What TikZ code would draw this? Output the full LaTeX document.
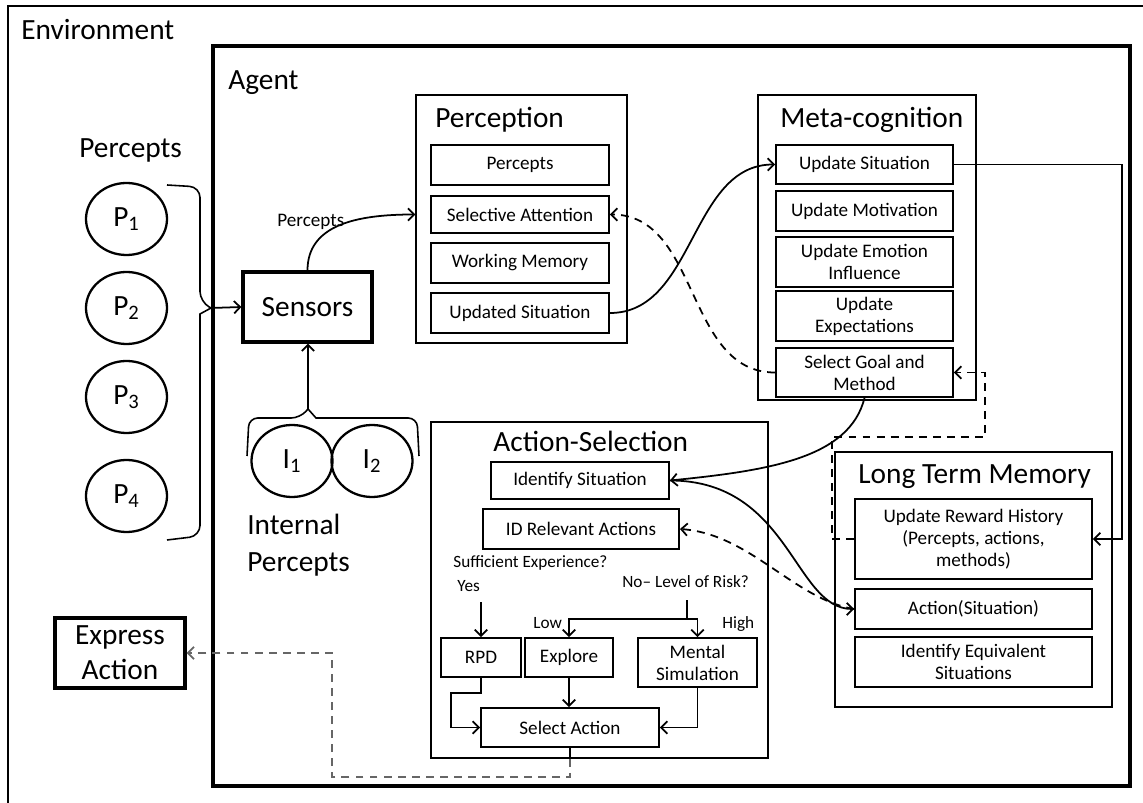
\documentclass[tikz,border=0pt]{standalone}
\usepackage{fontspec}
\setmainfont{Carlito}
\usetikzlibrary{arrows.meta,positioning,fit,shapes.geometric}

\newcommand{\bigtxt}{\fontsize{16.7}{20}\selectfont}
\newcommand{\boxtxt}{\fontsize{10.9}{12.5}\selectfont}
\newcommand{\smalltxt}{\fontsize{9.8}{11}\selectfont}

\tikzset{
  module/.style={draw, line width=0.8pt, inner sep=0pt},
  cell/.style 2 args={draw, line width=1.1pt, inner sep=0pt, align=center,
    font=\boxtxt, minimum width=#1*0.02cm, minimum height=#2*0.02cm},
  heavy/.style={draw, line width=1.8pt, inner sep=0pt, align=center, font=\bigtxt},
  percept/.style={draw, ellipse, line width=1.3pt, inner sep=0pt,
    minimum width=81*0.02cm, minimum height=72*0.02cm, font=\bigtxt},
  title/.style={anchor=base west, inner sep=0pt, font=\bigtxt},
  note/.style={anchor=base west, inner sep=0pt, font=\smalltxt},
  link/.style={->, line width=1pt},
  back/.style={->, line width=1pt, dash pattern=on 4.5pt off 3.5pt},
}

\begin{document}
\begin{tikzpicture}[x=0.02cm, y=-0.02cm, >={Straight Barb[length=3.5pt,width=7pt]}]
  \useasboundingbox (0,0) rectangle (1143,803);
  \clip (0,0) rectangle (1143,803);
  %
  \draw[line width=1.3pt] (8,6) rectangle (1160,830);
  \node[title] (env) at (21,40) {Environment};
  \draw[line width=1.8pt] (213,46) rectangle (1130,786);
  \node[title] (agent) at (228,90) {Agent};
  %
  \node[title] (plabel) at (79,158) {Percepts};
  \node[percept] (p1) at (126.5,219) {P\textsubscript{1}};
  \node[percept] (p2) at (126.5,308) {P\textsubscript{2}};
  \node[percept] (p3) at (126.5,397) {P\textsubscript{3}};
  \node[percept] (p4) at (126.5,496) {P\textsubscript{4}};
  \coordinate (ptip) at (211,308);
  \draw[line width=0.9pt, rounded corners=6pt] (167,185) -- (200,187) -- (200,302)
    [sharp corners] -- (ptip) -- (200,314) [rounded corners=6pt] -- (200,536) -- (167,540);
  %
  \node[heavy, minimum width=129*0.02cm, minimum height=70*0.02cm] (sensors) at (307.5,307) {Sensors};
  \node[anchor=base west, inner sep=0pt, font=\boxtxt] (sensed) at (277,227) {Percepts};
  %
  \node[percept] (i1) at (292,461) {I\textsubscript{1}};
  \node[percept] (i2) at (372,461) {I\textsubscript{2}};
  \coordinate (itip) at (308,409);
  \draw[line width=0.9pt, rounded corners=5pt] (247,456) -- (249,418) -- (300,418)
    [sharp corners] -- (itip) -- (316,418) [rounded corners=5pt] -- (417,418) -- (419,456);
  \node[anchor=north west, inner sep=0pt, align=left, font=\fontsize{16.7}{21}\selectfont]
    (ilabel) at (247,514) {Internal\\Percepts};
  %
  \node[heavy, minimum width=130*0.02cm, minimum height=70*0.02cm] (express) at (120,653) {Express\\Action};
  %
  \node[module, fit={(416,95) (627,343)}] (perc) {};
  \node[title] (perctitle) at (435,128) {Perception};
  \node[cell={178}{40}] (pcpt) at (520,165) {Percepts};
  \node[cell={178}{37}] (selatt) at (520,214.5) {Selective Attention};
  \node[cell={178}{40}] (workmem) at (520,263) {Working Memory};
  \node[cell={178}{40}] (updsit) at (520,313) {Updated Situation};
  %
  \node[module, fit={(758,95) (976,400)}] (meta) {};
  \node[title] (metatitle) at (780,128) {Meta-cognition};
  \node[cell={177}{39}] (upsit) at (864.5,164.5) {Update Situation};
  \node[cell={177}{40}] (upmot) at (864.5,211) {Update Motivation};
  \node[cell={177}{50}] (upemo) at (864.5,262) {Update Emotion\\Influence};
  \node[cell={177}{50}] (upexp) at (864.5,316) {Update\\Expectations};
  \node[cell={177}{49}] (selgoal) at (864.5,372.5) {Select Goal and\\Method};
  %
  \node[module, fit={(431,422) (768,758)}] (actsel) {};
  \node[title] (actseltitle) at (493,452) {Action-Selection};
  \node[cell={178}{37}] (idsit) at (580,480.5) {Identify Situation};
  \node[cell={196}{40}] (idrel) at (581,529) {ID Relevant Actions};
  \node[note] (suff) at (453,568) {Sufficient Experience?};
  \node[note] (yes) at (457,592) {Yes};
  \node[note] (risk) at (622,588) {No-- Level of Risk?};
  \node[note] (low) at (533,628) {Low};
  \node[note] (high) at (722,628) {High};
  \node[cell={80}{39}] (rpd) at (481,657.5) {RPD};
  \node[cell={88}{39}] (explore) at (569,657.5) {Explore};
  \node[cell={119}{49}] (mental) at (697.5,662.5) {Mental\\Simulation};
  \node[cell={178}{39}] (selact) at (570,727.5) {Select Action};
  %
  \node[module, fit={(835,452) (1112,707)}] (ltm) {};
  \node[title] (ltmtitle) at (858,484) {Long Term Memory};
  \node[cell={237}{80}] (reward) at (973.5,539) {Update Reward History\\(Percepts, actions,\\methods)};
  \node[cell={237}{40}] (actsit) at (973.5,609) {Action(Situation)};
  \node[cell={237}{50}] (equiv) at (973.5,662) {Identify Equivalent\\Situations};
  %
  \coordinate (rail) at (1122,0);
  \coordinate (loopa) at (832,437);
  \coordinate (loopb) at (985,437);
  \coordinate (fork) at (687,619);
  \coordinate (rpdturn) at (451,693);
  \coordinate (outturn) at (332,777);
  %
  \draw[link] (ptip) -- (sensors.west);
  \draw[link] (itip) -- (itip |- sensors.south);
  \draw[link] (sensors.north) .. controls +(0,-45) and +(-60,0) .. (perc.west |- selatt.west);
  \draw[link] (updsit.east) .. controls +(85,0) and +(-85,0) .. (upsit.west);
  \draw[back] (selgoal.west) .. controls +(-90,0) and +(90,0) .. (selatt.east);
  \draw[link] (upsit.east) -- (upsit.east -| rail) |- (reward.east);
  \draw[back] (reward.west) -| (loopa) -- (loopb) |- (selgoal.east);
  \draw[link] (selgoal.south) .. controls +(-15,60) and +(100,-10) .. (idsit.east);
  \draw[link] (idsit.east) .. controls +(120,0) and +(-60,0) .. (actsit.west);
  \draw[back] (actsit.west) .. controls +(-60,-10) and +(70,5) .. (idrel.east);
  %
  \draw[link] (rpd.north) ++(0,-35) -- (rpd.north);
  \draw[line width=1pt] (fork) -- ++(0,-19);
  \draw[link] (fork) -| (explore.north);
  \draw[link] (fork) -| (mental.north);
  \draw[link] (explore.south) -- (explore.south |- selact.north);
  \draw[link] (rpd.south) |- (rpdturn) |- (selact.west);
  \draw[link] (mental.south) |- (selact.east);
  \draw[line width=1pt] (selact.south) -- (selact.south |- actsel.south);
  \draw[back, draw=black!60] (selact.south |- actsel.south) |- (outturn) |- (express.east);
\end{tikzpicture}
\end{document}
